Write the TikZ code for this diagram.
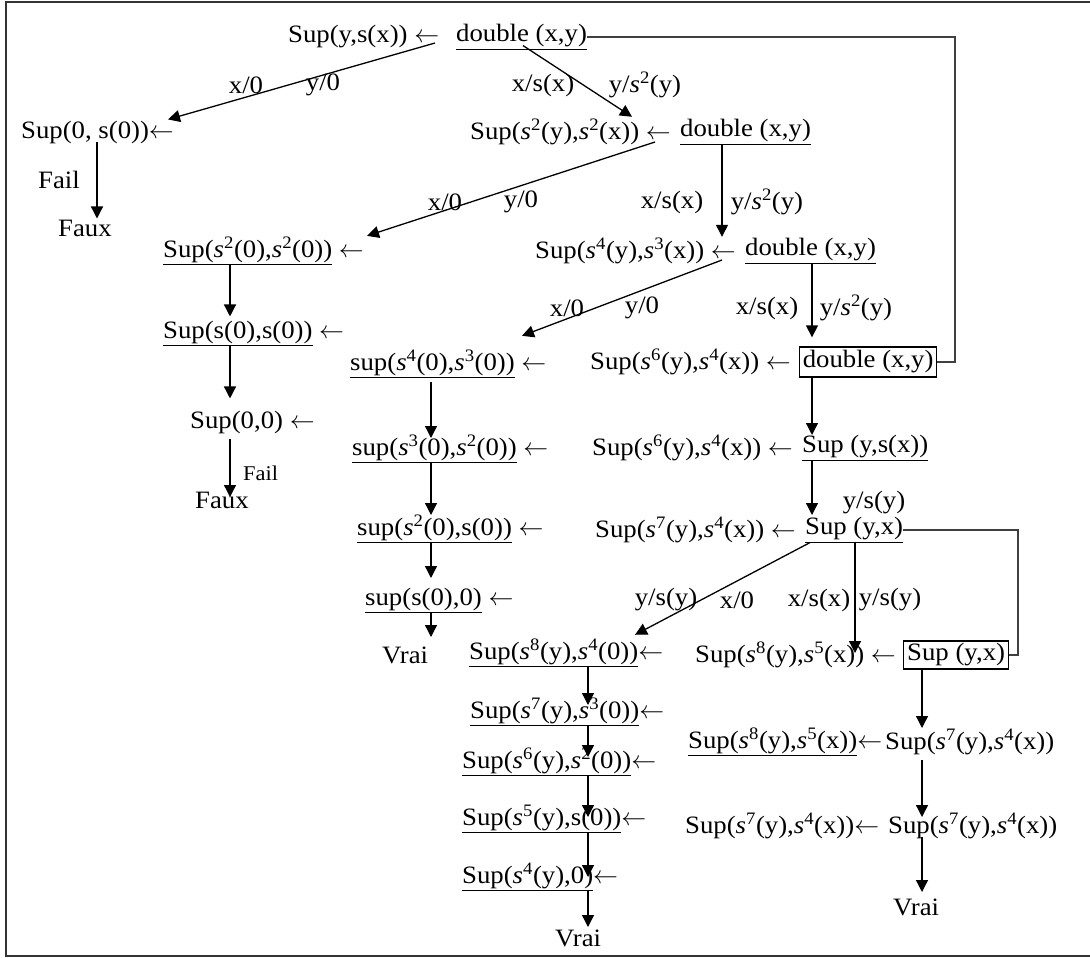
\documentclass[tikz,border=0pt]{standalone}
\usepackage{fontspec}
\setmainfont{Liberation Serif}[FakeStretch=1.07]
\usetikzlibrary{arrows.meta,calc}
\newcommand\sx[1]{\textit{s}\textsuperscript{#1}}
\newcommand\la{$\leftarrow$}
\tikzset{
  t/.style={inner sep=0pt, anchor=west, font=\fontsize{25}{30}\selectfont},
  lab/.style={inner sep=0pt, font=\fontsize{25}{30}\selectfont},
  smalllab/.style={inner sep=0pt, anchor=west, font=\fontsize{21}{25}\selectfont},
  bx/.style={t, draw, line width=1.3pt, minimum height=30pt, align=center},
  arr/.style={line width=1.3pt, -{Triangle[length=12pt,width=12pt]}},
  fb/.style={line width=1.5pt, black!75},
}
\begin{document}
\begin{tikzpicture}[x=1pt,y=-1pt]
\useasboundingbox (0,0) rectangle (1090,958);
% frame (open to the right)
\draw[line width=2pt, black!80] (1092,2) -- (6,2) -- (6,956) -- (1092,956);

% column x coordinates
\coordinate (xF) at (97,0);
\coordinate (xL) at (230,0);
\coordinate (xM) at (431,0);
\coordinate (x2) at (722,0);
\coordinate (xR) at (812,0);
\coordinate (xV) at (855,0);
\coordinate (xB) at (588,0);
\coordinate (xC) at (922,0);
\coordinate (xr1) at (955,0);
\coordinate (xr2) at (1018,0);

% row 1
\node[t] (a1) at (288,37) {Sup(y,s(x)) \la};
\node[t] (d1) at (456,37) {\underline{double (x,y)}};
% row 2
\node[t] (b2) at (21,132) {Sup(0, s(0))\la};
\node[t] (a2) at (470,132) {Sup(\sx{2}(y),\sx{2}(x)) \la};
\node[t] (d2) at (680,132) {\underline{double (x,y)}};
\node[t] (fail1) at (38,180) {Fail};
\node[t] (faux1) at (58,228) {Faux};
% row 3
\node[t] (c3) at (163,251) {\underline{Sup(\sx{2}(0),\sx{2}(0))} \la};
\node[t] (a3) at (535,251) {Sup(\sx{4}(y),\sx{3}(x)) \la};
\node[t] (d3) at (745,251) {\underline{double (x,y)}};
\node[t] (c4) at (163,333) {\underline{Sup(s(0),s(0))} \la};
\node[t] (c5) at (190,422) {Sup(0,0) \la};
\node[smalllab] (fail2) at (243,473) {Fail};
\node[t] (faux2) at (195,500) {Faux};
% row 4
\node[t] (m1) at (350,364) {\underline{sup(\sx{4}(0),\sx{3}(0))} \la};
\node[t] (a4) at (590,362) {Sup(\sx{6}(y),\sx{4}(x)) \la};
\node[bx, minimum width=137pt] (d4) at (799,362) {double (x,y)};
\node[t] (m2) at (352,449) {\underline{sup(\sx{3}(0),\sx{2}(0))} \la};
\node[t] (a5) at (592,448) {Sup(\sx{6}(y),\sx{4}(x)) \la};
\node[t] (e5) at (802,448) {\underline{Sup (y,s(x))}};
\node[t] (m3) at (357,529) {\underline{sup(\sx{2}(0),s(0))} \la};
\node[t] (a6) at (595,530) {Sup(\sx{7}(y),\sx{4}(x)) \la};
\node[t] (e6) at (805,530) {\underline{Sup (y,x)}};
\node[t] (m4) at (365,600) {\underline{sup(s(0),0)} \la};
\node[t] (vrai1) at (382,655) {Vrai};
% row 5
\node[t] (n1) at (469,653) {\underline{Sup(\sx{8}(y),\sx{4}(0))}\la};
\node[t] (a7) at (695,655) {Sup(\sx{8}(y),\sx{5}(x)) \la};
\node[bx, minimum width=105pt, minimum height=28pt] (e7) at (903,655) {Sup (y,x)};
\node[t] (n2) at (470,712) {\underline{Sup(\sx{7}(y),\sx{3}(0))}\la};
\node[t] (n3) at (462,762) {\underline{Sup(\sx{6}(y),\sx{2}(0))}\la};
\node[t] (n4) at (462,819) {\underline{Sup(\sx{5}(y),s(0))}\la};
\node[t] (n5) at (462,877) {\underline{Sup(\sx{4}(y),0)}\la};
\node[t] (vrai2) at (555,938) {Vrai};
\node[t] (f1) at (688,742) {\underline{Sup(\sx{8}(y),\sx{5}(x))}\la};
\node[t] (f2) at (885,742) {Sup(\sx{7}(y),\sx{4}(x))};
\node[t] (g1) at (685,826) {Sup(\sx{7}(y),\sx{4}(x))\la};
\node[t] (g2) at (888,826) {Sup(\sx{7}(y),\sx{4}(x))};
\node[t] (vrai3) at (893,907) {Vrai};

% edge labels
\node[lab] (l1) at (246,85) {x/0};
\node[lab] (l2) at (323,85) {y/0};
\node[lab] (l3) at (543,85) {x/s(x)};
\node[lab] (l4) at (645,85) {y/\sx{2}(y)};
\node[lab] (l5) at (445,202) {x/0};
\node[lab] (l6) at (521,202) {y/0};
\node[lab] (l7) at (672,202) {x/s(x)};
\node[lab] (l8) at (767,202) {y/\sx{2}(y)};
\node[lab] (l9) at (567,308) {x/0};
\node[lab] (l10) at (642,308) {y/0};
\node[lab] (l11) at (767,308) {x/s(x)};
\node[lab] (l12) at (856,308) {y/\sx{2}(y)};
\node[lab] (l13) at (874,503) {y/s(y)};
\node[lab] (l14) at (666,600) {y/s(y)};
\node[lab] (l15) at (737,600) {x/0};
\node[lab] (l16) at (819,600) {x/s(x)};
\node[lab] (l17) at (890,600) {y/s(y)};

% connectors
\draw[arr] ($(d1.west)+(-21,6)$) -- ($(b2.north west)+(147,-1)$);
\draw[arr] ($(d1.south west)+(67,-4)$) -- ($(a2.north west)+(162,-2)$);
\draw[arr] ($(d2.west)+(-25,10)$) -- ($(c3.north west)+(204,-1)$);
\draw[arr] (d2.south -| x2) -- ($(a3.north -| x2)+(0,-1)$);
\draw[arr] ($(d3.west)+(-23,9)$) -- ($(m1.north west)+(172,-14)$);
\draw[arr] (d3.south -| xR) -- ($(d4.north -| xR)+(0,-9)$);
\draw[fb] (d1.east) -- (d1.east -| xr1) -- (d4.east -| xr1) -- (d4.east);

\draw[arr] ($(b2.south -| xF)+(0,-2)$) -- ($(faux1.north -| xF)+(0,-1)$);
\draw[arr] (c3.south -| xL) -- ($(c4.north -| xL)+(0,-4)$);
\draw[arr] (c4.south -| xL) -- ($(c5.north -| xL)+(0,-12)$);
\draw[arr] ($(c5.south -| xL)+(0,5)$) -- ($(faux2.center -| xL)+(0,-3)$);

\draw[arr] ($(m1.south -| xM)+(0,4)$) -- ($(m2.center -| xM)+(0,-11)$);
\draw[arr] (m2.south -| xM) -- ($(m3.center -| xM)+(0,-14)$);
\draw[arr] (m3.south -| xM) -- ($(m4.center -| xM)+(0,-22)$);
\draw[arr] (m4.south -| xM) -- ($(vrai1.center -| xM)+(0,-18)$);

\draw[arr] (d4.south -| xR) -- ($(e5.center -| xR)+(0,-13)$);
\draw[arr] (e5.south -| xR) -- ($(e6.center -| xR)+(0,-15)$);
\draw[fb] (e6.east) -- (e6.east -| xr2) -- (e7.east -| xr2) -- (e7.east);
\draw[arr] ($(e6.south west)+(5,0)$) -- ($(n1.north west)+(166,-4)$);
\draw[arr] (e6.south -| xV) -- ($(a7.center -| xV)+(0,-2)$);

\draw[arr] (n1.south -| xB) -- ($(n2.center -| xB)+(0,-7)$);
\draw[arr] (n2.south -| xB) -- ($(n3.center -| xB)+(0,-5)$);
\draw[arr] (n3.south -| xB) -- ($(n4.center -| xB)+(0,-2)$);
\draw[arr] (n4.south -| xB) -- (n5.center -| xB);
\draw[arr] (n5.south -| xB) -- ($(vrai2.center -| xB)+(0,-11)$);

\draw[arr] (e7.south -| xC) -- ($(f2.center -| xC)+(0,-14)$);
\draw[arr] ($(f2.south -| xC)+(0,5)$) -- ($(g2.center -| xC)+(0,-9)$);
\draw[arr] ($(g2.south -| xC)+(0,-2)$) -- ($(vrai3.center -| xC)+(0,-15)$);
\end{tikzpicture}
\end{document}
